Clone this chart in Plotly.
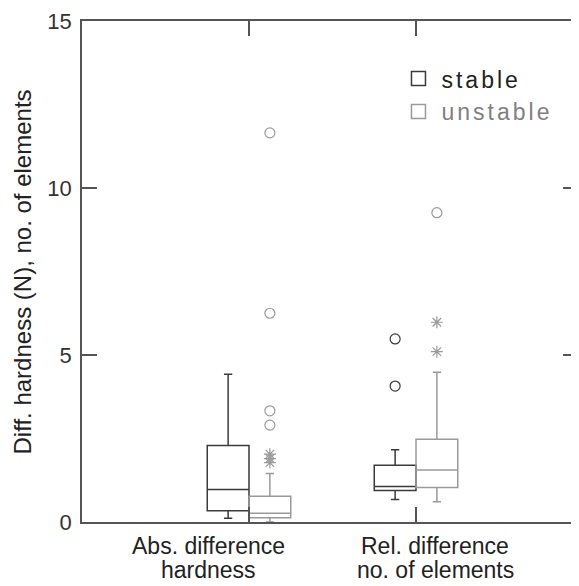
import plotly.graph_objects as go

# ---- data ----
categories = ["Abs. difference\nhardness", "Rel. difference\nno. of elements"]
cat_pos = [1, 2]

stable_lowerfence = [0.11, 0.67]
stable_q1 = [0.34, 0.94]
stable_median = [0.97, 1.06]
stable_q3 = [2.29, 1.70]
stable_upperfence = [4.42, 2.16]

unstable_lowerfence = [0.0, 0.61]
unstable_q1 = [0.13, 1.03]
unstable_median = [0.26, 1.56]
unstable_q3 = [0.77, 2.48]
unstable_upperfence = [1.45, 4.48]

# outliers (circles) and extremes (stars), per category
stable_outliers = [[], [5.48, 4.07]]
stable_extremes = [[], []]
unstable_outliers = [[11.65, 6.25, 3.33, 2.90], [9.26]]
unstable_extremes = [[2.03, 1.90, 1.78], [5.98, 5.10]]

y_ticks = [0, 5, 10, 15]

# ---- style ----
C_ST = "#3a3a3a"
C_UN = "#9a9a9a"
FONT = "Liberation Sans, Arial, sans-serif"
OFF = 0.125
BW = 0.25
PAGE_OFF = 8  # default body margin of the html page

fig = go.Figure()

def add_group(color, off, lf, q1, med, q3, uf, outs, exts):
    xs = [p + off for p in cat_pos]
    fig.add_trace(go.Box(
        x=xs, q1=q1, median=med, q3=q3, lowerfence=lf, upperfence=uf,
        width=BW, whiskerwidth=0.2, boxpoints=False,
        line=dict(color=color, width=1.5), fillcolor="rgba(255,255,255,0)",
        showlegend=False, hoverinfo="skip"))
    ox, oy, ex, ey = [], [], [], []
    for p, o, e in zip(xs, outs, exts):
        ox += [p] * len(o); oy += o
        ex += [p] * len(e); ey += e
    fig.add_trace(go.Scatter(x=ox, y=oy, mode="markers", showlegend=False,
                             marker=dict(symbol="circle-open", size=10, color=color,
                                         line=dict(width=1.2, color=color))))
    fig.add_trace(go.Scatter(x=ex, y=ey, mode="markers", showlegend=False,
                             marker=dict(symbol="asterisk-open", size=10, color=color,
                                         line=dict(width=1.2, color=color))))

add_group(C_ST, -OFF, stable_lowerfence, stable_q1, stable_median, stable_q3,
          stable_upperfence, stable_outliers, stable_extremes)
add_group(C_UN, OFF, unstable_lowerfence, unstable_q1, unstable_median, unstable_q3,
          unstable_upperfence, unstable_outliers, unstable_extremes)

# legend entries
fig.add_trace(go.Scatter(x=[None], y=[None], mode="markers", name="stable",
                         legendgroup="a",
                         marker=dict(symbol="square-open", size=14, color=C_ST,
                                     line=dict(width=1.5, color=C_ST))))
fig.add_trace(go.Scatter(x=[None], y=[None], mode="markers",
                         name="<span style='color:#808080'>unstable</span>",
                         legendgroup="b",
                         marker=dict(symbol="square-open", size=14, color=C_UN,
                                     line=dict(width=1.5, color=C_UN))))

for pos, lab in zip(cat_pos, categories):
    l1, l2 = lab.split("\n")
    xc = pos - 0.245 if pos == 1 else pos + 0.115
    fig.add_annotation(x=xc, y=-0.048, xref="x", yref="paper", text=l1,
                       showarrow=False, xanchor="center", yanchor="middle",
                       font=dict(family=FONT, size=23, color="#222"))
    fig.add_annotation(x=xc, y=-0.095, xref="x", yref="paper", text=l2,
                       showarrow=False, xanchor="center", yanchor="middle",
                       font=dict(family=FONT, size=23, color="#222"))

fig.add_annotation(x=-0.119, y=0.5, xref="paper", yref="paper",
                   text="Diff. hardness (N), no. of elements", textangle=-90,
                   showarrow=False, xanchor="center", yanchor="middle",
                   font=dict(family=FONT, size=24, color="#222"))

fig.update_layout(
    width=579 - PAGE_OFF, height=586 - PAGE_OFF,
    margin=dict(l=82 - PAGE_OFF, r=1, t=21 - PAGE_OFF, b=64, autoexpand=False),
    paper_bgcolor="white", plot_bgcolor="white",
    boxmode="overlay",
    font=dict(family=FONT, size=22, color="#333"),
    legend=dict(x=0.632, y=0.928, xanchor="left", yanchor="top",
                bgcolor="rgba(0,0,0,0)", itemwidth=36,
                font=dict(family=FONT, size=23, color="#222"),
                traceorder="grouped", tracegroupgap=0),
    xaxis=dict(range=[0, 2.97], tickvals=cat_pos, showticklabels=False,
               ticks="inside", ticklen=15, tickwidth=1.5, tickcolor="#555",
               showline=True, linecolor="#555", linewidth=1.5, mirror="ticks",
               showgrid=False, zeroline=False, automargin=False),
    yaxis=dict(range=[0, 15], tickvals=y_ticks, ticks="inside", ticklen=15,
               tickwidth=1.5, tickcolor="#555", ticklabelstandoff=4,
               tickfont=dict(family=FONT, size=22, color="#333"),
               showline=True, linecolor="#555", linewidth=1.5, mirror="ticks",
               showgrid=False, zeroline=False, automargin=False),
)

post = ("document.querySelectorAll('.legendtext').forEach(function(e){"
        "e.style.letterSpacing='3px';});"
        "document.querySelectorAll('.legend .scrollbox, .legend [clip-path]').forEach(function(e){"
        "e.removeAttribute('clip-path');});")
fig.write_html("out.html", post_script=post)
